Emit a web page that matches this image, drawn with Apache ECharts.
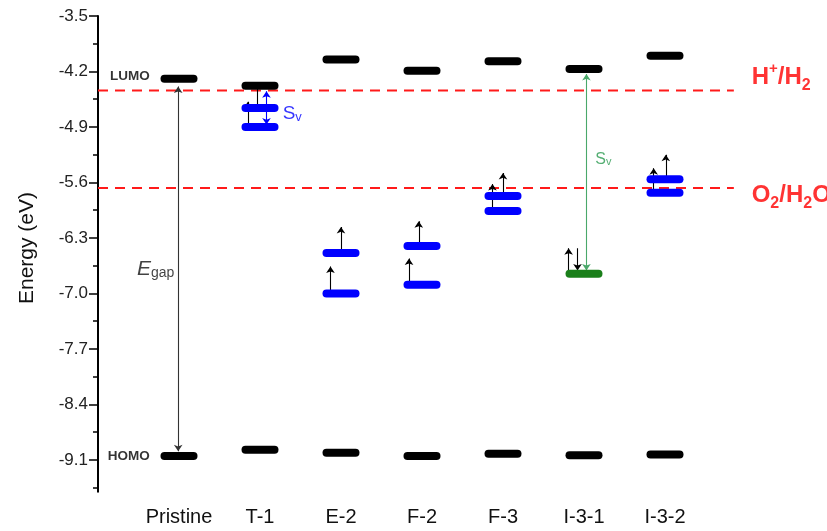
<!DOCTYPE html>
<html>
<head>
<meta charset="utf-8">
<script src="https://cdn.jsdelivr.net/npm/echarts@6/dist/echarts.min.js"></script>
<style>html,body{margin:0;padding:0;background:#fff}#c{width:827px;height:531px}</style>
</head>
<body>
<div id="c"></div>
<script>
// ---- data ----
const categories = ['Pristine', 'T-1', 'E-2', 'F-2', 'F-3', 'I-3-1', 'I-3-2'];
const lumo = [-4.29, -4.38, -4.05, -4.19, -4.07, -4.17, -4.00];
const homo = [-9.05, -8.97, -9.01, -9.05, -9.02, -9.04, -9.03];
// defect levels: [category position (1-based), energy]
const blueLevels = [[2, -4.66], [2, -4.90], [3, -6.49], [3, -7.00], [4, -6.40], [4, -6.89],
                    [5, -5.77], [5, -5.96], [7, -5.56], [7, -5.73]];
const greenLevels = [[6, -6.75]];
const redoxH = -4.44;   // H+/H2
const redoxO = -5.67;   // O2/H2O
const majorTicks = [-3.5, -4.2, -4.9, -5.6, -6.3, -7.0, -7.7, -8.4, -9.1];
const minorTicks = [-3.85, -4.55, -5.25, -5.95, -6.65, -7.35, -8.05, -8.75, -9.45];
// arrows: [x, from, to, color]
const upArrows = [
  [1.85, -4.90, -4.58, '#000'], [2.87, -7.00, -6.66, '#000'], [3.00, -6.49, -6.16, '#000'],
  [3.84, -6.89, -6.56, '#000'], [3.96, -6.40, -6.09, '#000'], [4.87, -5.96, -5.62, '#000'],
  [5.00, -5.77, -5.48, '#000'], [5.81, -6.72, -6.43, '#000'], [6.86, -5.73, -5.42, '#000'],
  [7.01, -5.56, -5.25, '#000'], [5.92, -6.43, -6.71, '#000']
];
const doubleArrows = [
  [0.99, -8.99, -4.39, '#333'], [2.08, -4.87, -4.45, '#0000ff'], [6.03, -6.71, -4.23, '#4aa86a']
];
const plainLines = [[1.96, -4.42, -4.63, '#000']];

// ---- chart ----
const chart = echarts.init(document.getElementById('c'));
const FONT = 'Liberation Sans, Arial, sans-serif';

function levelSeries(data, color) {
  return {
    type: 'custom',
    data: data,
    clip: false,
    z: 5,
    renderItem: function (params, api) {
      const p = api.coord([api.value(0), api.value(1)]);
      return {
        type: 'rect',
        shape: { x: p[0] - 18.5, y: p[1] - 4, width: 37, height: 8, r: 4 },
        style: { fill: color }
      };
    }
  };
}
function arrowSeries(list, symbols) {
  return {
    type: 'lines',
    coordinateSystem: 'cartesian2d',
    symbol: symbols,
    symbolSize: 6.5,
    z: 4,
    lineStyle: { width: 1.1, opacity: 1, curveness: 0 },
    data: list.map(a => ({ coords: [[a[0], a[1]], [a[0], a[2]]], lineStyle: { color: a[3] } }))
  };
}
function textSeries(items) {
  return {
    type: 'scatter', symbolSize: 0, clip: false, silent: true, z: 6,
    data: items.map(t => ({ value: [t.x, t.y], label: t.label }))
  };
}

const option = {
  animation: false,
  grid: { left: 98, right: 81, top: 16, bottom: 39.3 },
  xAxis: {
    type: 'value', min: 0, max: 8, interval: 1,
    axisLine: { show: false }, axisTick: { show: false }, splitLine: { show: false },
    axisLabel: {
      formatter: v => categories[v - 1] || '',
      fontFamily: FONT, fontSize: 20, color: '#111', margin: 16
    }
  },
  yAxis: [{
    type: 'value', min: -9.5, max: -3.5,
    axisLine: { show: true, onZero: false, lineStyle: { color: '#000', width: 2 } },
    axisTick: { show: true, length: 9, customValues: majorTicks, lineStyle: { color: '#000', width: 1.5 } },
    axisLabel: {
      customValues: majorTicks, formatter: v => v.toFixed(1),
      fontFamily: FONT, fontSize: 17, color: '#222', margin: 10
    },
    splitLine: { show: false }
  }, {
    type: 'value', min: -9.5, max: -3.5, position: 'left',
    axisLine: { show: false },
    axisTick: { show: true, length: 5, customValues: minorTicks, lineStyle: { color: '#000', width: 1.5 } },
    axisLabel: { show: false },
    splitLine: { show: false }
  }],
  graphic: [{
    type: 'text', left: 17, top: 192, rotation: Math.PI / 2,
    style: { text: 'Energy (eV)', font: '21px ' + FONT, fill: '#111' }
  }],
  series: [
    {
      type: 'line', symbol: 'none', z: 3, silent: true,
      data: [[0, redoxH], [7.85, redoxH]],
      lineStyle: { color: '#ff1a1a', width: 2, type: [10, 7] }
    },
    {
      type: 'line', symbol: 'none', z: 3, silent: true,
      data: [[0, redoxO], [7.85, redoxO]],
      lineStyle: { color: '#ff1a1a', width: 2, type: [10, 7] }
    },
    levelSeries(lumo.map((v, i) => [i + 1, v]), '#000'),
    levelSeries(homo.map((v, i) => [i + 1, v]), '#000'),
    levelSeries(blueLevels, '#0000ff'),
    levelSeries(greenLevels, '#1a7f1a'),
    arrowSeries(upArrows, ['none', 'arrow']),
    arrowSeries(doubleArrows, ['arrow', 'arrow']),
    arrowSeries(plainLines, ['none', 'none']),
    textSeries([
      { x: 0.64, y: -4.26, label: { show: true, position: 'left', distance: 0, formatter: 'LUMO',
        fontFamily: FONT, fontSize: 13.5, fontWeight: 'bold', color: '#000' } },
      { x: 0.64, y: -9.05, label: { show: true, position: 'left', distance: 0, formatter: 'HOMO',
        fontFamily: FONT, fontSize: 13.5, fontWeight: 'bold', color: '#000' } },
      { x: 0.48, y: -6.68, label: { show: true, position: 'right', distance: 0,
        formatter: '{e|E}{s|gap}',
        rich: { e: { fontFamily: FONT, fontSize: 21, fontStyle: 'italic', color: '#111', verticalAlign: 'bottom', lineHeight: 24 },
                s: { fontFamily: FONT, fontSize: 14, color: '#111', verticalAlign: 'bottom', lineHeight: 20 } } } },
      { x: 2.28, y: -4.72, label: { show: true, position: 'right', distance: 0,
        formatter: '{e|S}{s|v}',
        rich: { e: { fontFamily: FONT, fontSize: 19, color: '#0000ff', verticalAlign: 'bottom', lineHeight: 22 },
                s: { fontFamily: FONT, fontSize: 13, color: '#0000ff', verticalAlign: 'bottom', lineHeight: 16 } } } },
      { x: 6.14, y: -5.29, label: { show: true, position: 'right', distance: 0,
        formatter: '{e|S}{s|v}',
        rich: { e: { fontFamily: FONT, fontSize: 16, color: '#2a9a50', verticalAlign: 'bottom', lineHeight: 19 },
                s: { fontFamily: FONT, fontSize: 11, color: '#2a9a50', verticalAlign: 'bottom', lineHeight: 14 } } } },
      { x: 8.07, y: -4.28, label: { show: true, position: 'right', distance: 0,
        formatter: '{n|H}{p|+}{n|/H}{b|2}',
        rich: { n: { fontFamily: FONT, fontSize: 24, fontWeight: 'bold', color: '#ff0000', verticalAlign: 'middle', lineHeight: 32 },
                p: { fontFamily: FONT, fontSize: 15, fontWeight: 'bold', color: '#ff0000', verticalAlign: 'top', lineHeight: 32 },
                b: { fontFamily: FONT, fontSize: 16, fontWeight: 'bold', color: '#ff0000', verticalAlign: 'bottom', lineHeight: 20, padding: [10, 0, 0, 0] } } } },
      { x: 8.07, y: -5.76, label: { show: true, position: 'right', distance: 0,
        formatter: '{n|O}{b|2}{n|/H}{b|2}{n|O}',
        rich: { n: { fontFamily: FONT, fontSize: 24, fontWeight: 'bold', color: '#ff0000', verticalAlign: 'middle', lineHeight: 32 },
                b: { fontFamily: FONT, fontSize: 16, fontWeight: 'bold', color: '#ff0000', verticalAlign: 'bottom', lineHeight: 20, padding: [10, 0, 0, 0] } } } }
    ])
  ]
};
chart.setOption(option);
</script>
</body>
</html>
